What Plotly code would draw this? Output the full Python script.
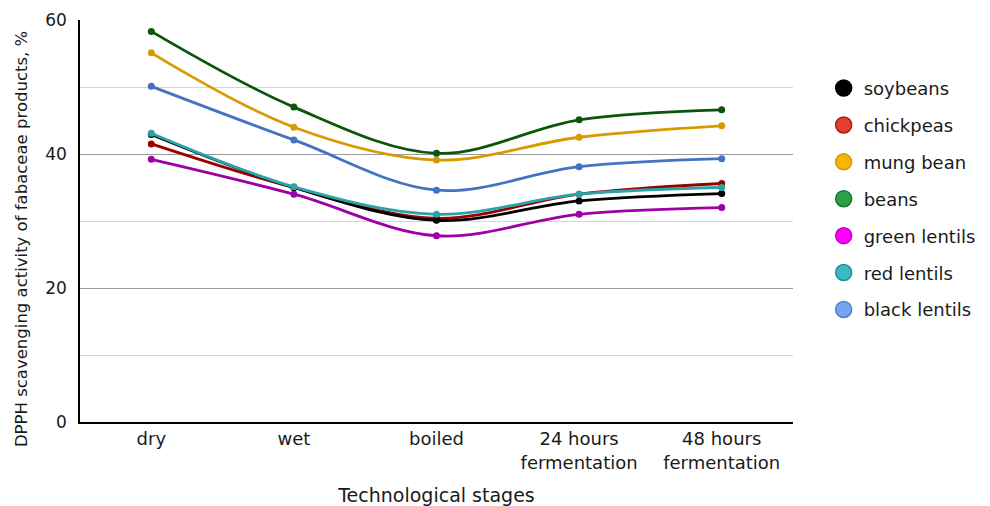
import plotly.graph_objects as go

stages = ["dry", "wet", "boiled", "24 hours<br>fermentation", "48 hours<br>fermentation"]

series_names = ["soybeans", "chickpeas", "mung bean", "beans", "green lentils", "red lentils", "black lentils"]
soybeans = [42.9, 35.0, 30.1, 33.0, 34.1]
chickpeas = [41.5, 35.0, 30.4, 34.0, 35.6]
mung_bean = [55.1, 44.0, 39.1, 42.5, 44.2]
beans = [58.3, 47.0, 40.1, 45.1, 46.6]
green_lentils = [39.2, 34.0, 27.8, 31.0, 32.0]
red_lentils = [43.1, 35.1, 31.0, 34.0, 35.0]
black_lentils = [50.1, 42.1, 34.6, 38.1, 39.3]

y_title = "DPPH scavenging activity of fabaceae products, %"
x_title = "Technological stages"

values = [soybeans, chickpeas, mung_bean, beans, green_lentils, red_lentils, black_lentils]
line_colors = ["#000000", "#990000", "#d99a00", "#0b560b", "#9c00a6", "#2aa4a8", "#4472c4"]
legend_fill = ["#000000", "#e0402f", "#f7b400", "#2e9e47", "#ff00ff", "#40b8c0", "#76a5f0"]
legend_edge = ["#000000", "#b01a10", "#d89800", "#127a2a", "#c400c4", "#1e8f96", "#4f7fd0"]

fig = go.Figure()

draw_order = [4, 1, 0, 5, 6, 2, 3]
for i in draw_order:
    fig.add_trace(go.Scatter(
        x=stages, y=values[i], mode="lines+markers",
        line=dict(color=line_colors[i], width=2.8, shape="spline", smoothing=1.0),
        marker=dict(color=line_colors[i], size=7),
        showlegend=False, hoverinfo="skip",
    ))

for i, name in enumerate(series_names):
    fig.add_trace(go.Scatter(
        x=[None], y=[None], mode="markers", name=name,
        legendgroup=name,
        marker=dict(color=legend_fill[i], size=16, symbol="circle",
                    line=dict(color=legend_edge[i], width=1.5)),
    ))

font_family = "DejaVu Sans, Liberation Sans, Arial, sans-serif"
txt = "#1a1a1a"

fig.update_layout(
    width=982, height=498,
    margin=dict(l=72, r=197, t=12, b=84, autoexpand=False),
    plot_bgcolor="white", paper_bgcolor="white",
    font=dict(family=font_family, color=txt, size=17),
    showlegend=True,
    legend=dict(
        x=1.043, y=0.876, xanchor="left", yanchor="top",
        font=dict(size=18, color=txt),
        tracegroupgap=10.5, itemsizing="trace",
        bgcolor="rgba(0,0,0,0)",
    ),
    xaxis=dict(
        type="category", range=[-0.5, 4.5],
        showgrid=False, showline=True, linecolor="#000000", linewidth=1.5,
        ticks="", tickfont=dict(size=18, color=txt),
        title=dict(text=x_title, font=dict(size=19, color=txt), standoff=24),
    ),
    yaxis=dict(
        range=[0, 60], dtick=20, tick0=0,
        showgrid=True, gridcolor="#9a9a9a", gridwidth=1,
        minor=dict(dtick=10, showgrid=True, gridcolor="#d6d6d6", gridwidth=1),
        showline=True, linecolor="#000000", linewidth=1.5,
        zeroline=False, ticks="", ticklabelstandoff=8,
        tickfont=dict(size=17, color=txt),
    ),
    annotations=[dict(
        text=y_title, textangle=-90, showarrow=False,
        xref="paper", yref="paper", x=0, y=0.455,
        xanchor="center", yanchor="middle", xshift=-59,
        font=dict(size=16.5, color=txt),
    )],
)

fig.write_html("out.html")
